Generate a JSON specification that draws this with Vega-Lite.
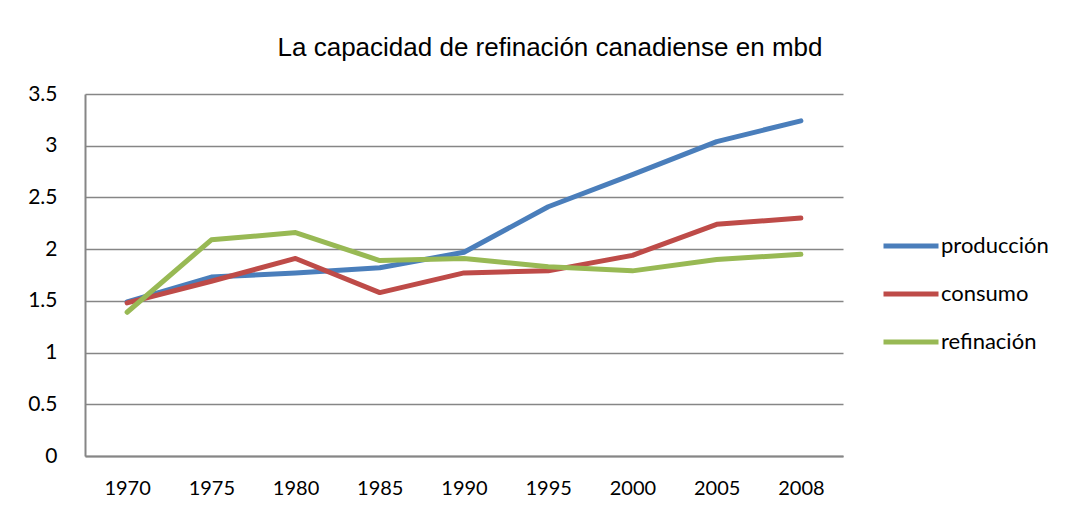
{
  "$schema": "https://vega.github.io/schema/vega-lite/v6.json",
  "autosize": {"type": "none"},
  "width": 758,
  "height": 362,
  "padding": {"left": 85, "top": 94, "right": 235, "bottom": 59},
  "background": "white",
  "title": {
    "text": "La capacidad de refinación canadiense en mbd",
    "anchor": "middle",
    "frame": "group",
    "dx": 86,
    "offset": 22
  },
  "config": {
    "view": {"stroke": null},
    "font": "Lato",
    "title": {"font": "Liberation Sans", "fontSize": 26, "fontWeight": "normal", "color": "#000000"}
  },
  "data": {
    "values": [
      {"year": "1970", "serie": "producción", "v": 1.49},
      {"year": "1975", "serie": "producción", "v": 1.73},
      {"year": "1980", "serie": "producción", "v": 1.77},
      {"year": "1985", "serie": "producción", "v": 1.82},
      {"year": "1990", "serie": "producción", "v": 1.97},
      {"year": "1995", "serie": "producción", "v": 2.41},
      {"year": "2000", "serie": "producción", "v": 2.72},
      {"year": "2005", "serie": "producción", "v": 3.04},
      {"year": "2008", "serie": "producción", "v": 3.24},
      {"year": "1970", "serie": "consumo", "v": 1.48},
      {"year": "1975", "serie": "consumo", "v": 1.69},
      {"year": "1980", "serie": "consumo", "v": 1.91},
      {"year": "1985", "serie": "consumo", "v": 1.58},
      {"year": "1990", "serie": "consumo", "v": 1.77},
      {"year": "1995", "serie": "consumo", "v": 1.79},
      {"year": "2000", "serie": "consumo", "v": 1.94},
      {"year": "2005", "serie": "consumo", "v": 2.24},
      {"year": "2008", "serie": "consumo", "v": 2.3},
      {"year": "1970", "serie": "refinación", "v": 1.39},
      {"year": "1975", "serie": "refinación", "v": 2.09},
      {"year": "1980", "serie": "refinación", "v": 2.16},
      {"year": "1985", "serie": "refinación", "v": 1.89},
      {"year": "1990", "serie": "refinación", "v": 1.91},
      {"year": "1995", "serie": "refinación", "v": 1.83},
      {"year": "2000", "serie": "refinación", "v": 1.79},
      {"year": "2005", "serie": "refinación", "v": 1.9},
      {"year": "2008", "serie": "refinación", "v": 1.95}
    ]
  },
  "mark": {"type": "line", "strokeWidth": 5, "strokeCap": "round", "strokeJoin": "round"},
  "encoding": {
    "x": {
      "field": "year",
      "type": "ordinal",
      "scale": {"type": "point", "padding": 0.5},
      "axis": {
        "title": null,
        "labelAngle": 0,
        "labelFont": "Lato",
        "labelFontSize": 20,
        "labelColor": "#000000",
        "labelPadding": 22,
        "ticks": false,
        "domainColor": "#868686",
        "domainWidth": 2,
        "grid": false
      }
    },
    "y": {
      "field": "v",
      "type": "quantitative",
      "scale": {"domain": [0, 3.5], "nice": false, "zero": true},
      "axis": {
        "title": null,
        "values": [0, 0.5, 1, 1.5, 2, 2.5, 3, 3.5],
        "format": "~g",
        "labelFont": "Lato",
        "labelFontSize": 21,
        "labelColor": "#000000",
        "labelPadding": 28,
        "ticks": false,
        "domainColor": "#868686",
        "domainWidth": 2,
        "grid": true,
        "gridColor": "#868686",
        "gridWidth": 1.3
      }
    },
    "color": {
      "field": "serie",
      "type": "nominal",
      "sort": ["producción", "consumo", "refinación"],
      "scale": {
        "domain": ["producción", "consumo", "refinación"],
        "range": ["#4A7EBB", "#BE4B48", "#98B954"]
      },
      "legend": {
        "title": null,
        "orient": "none",
        "legendX": 796,
        "legendY": 122,
        "symbolType": "stroke",
        "symbolSize": 3025,
        "symbolStrokeWidth": 5,
        "labelFont": "Lato",
        "labelFontSize": 22,
        "labelColor": "#000000",
        "labelOffset": 0,
        "rowPadding": 7,
        "labelLimit": 300
      }
    }
  }
}
